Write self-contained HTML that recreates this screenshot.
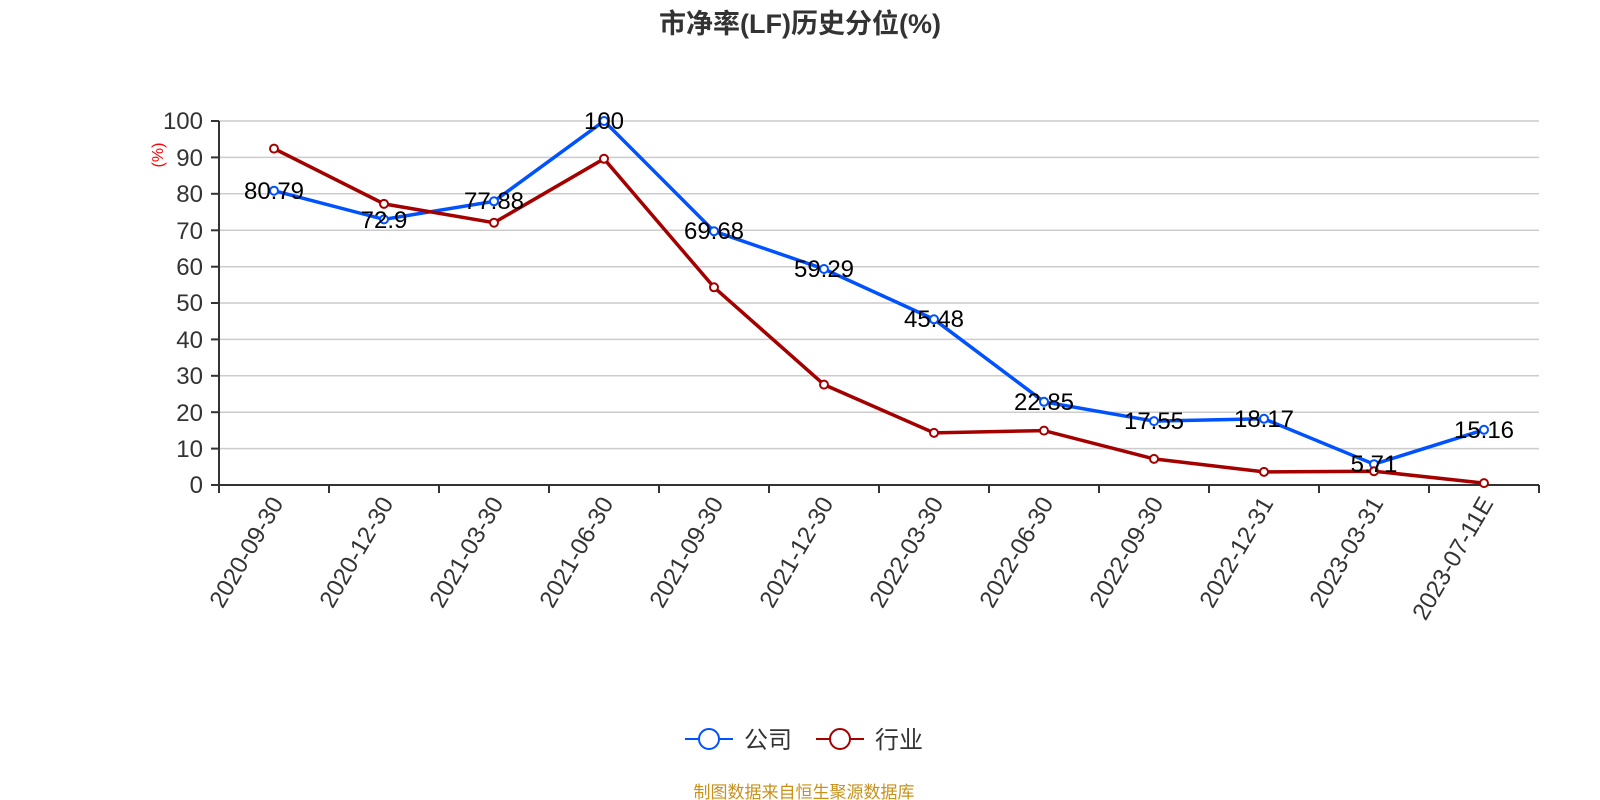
<!DOCTYPE html>
<html><head><meta charset="utf-8"><style>body{margin:0;background:#fff}svg{display:block}</style></head><body>
<svg width="1600" height="800" xmlns="http://www.w3.org/2000/svg" font-family="'Liberation Sans','Noto Sans CJK SC',sans-serif">
<text x="800" y="33" text-anchor="middle" font-size="27" font-weight="bold" fill="#333">市净率(LF)历史分位(%)</text>
<g stroke="#ccc" stroke-width="1.5">
<line x1="219" x2="1539" y1="121" y2="121"/><line x1="219" x2="1539" y1="157.4" y2="157.4"/><line x1="219" x2="1539" y1="193.8" y2="193.8"/><line x1="219" x2="1539" y1="230.3" y2="230.3"/><line x1="219" x2="1539" y1="266.7" y2="266.7"/><line x1="219" x2="1539" y1="303" y2="303"/><line x1="219" x2="1539" y1="339.4" y2="339.4"/><line x1="219" x2="1539" y1="375.8" y2="375.8"/><line x1="219" x2="1539" y1="412.2" y2="412.2"/><line x1="219" x2="1539" y1="448.6" y2="448.6"/>
</g>
<g stroke="#333" stroke-width="2">
<line x1="219" x2="219" y1="121" y2="485"/><line x1="219" x2="1539" y1="485" y2="485"/>
<line x1="211" x2="219" y1="121" y2="121"/><line x1="211" x2="219" y1="157.4" y2="157.4"/><line x1="211" x2="219" y1="193.8" y2="193.8"/><line x1="211" x2="219" y1="230.3" y2="230.3"/><line x1="211" x2="219" y1="266.7" y2="266.7"/><line x1="211" x2="219" y1="303" y2="303"/><line x1="211" x2="219" y1="339.4" y2="339.4"/><line x1="211" x2="219" y1="375.8" y2="375.8"/><line x1="211" x2="219" y1="412.2" y2="412.2"/><line x1="211" x2="219" y1="448.6" y2="448.6"/><line x1="211" x2="219" y1="485" y2="485"/>
<line x1="219" x2="219" y1="485" y2="493"/><line x1="329" x2="329" y1="485" y2="493"/><line x1="439" x2="439" y1="485" y2="493"/><line x1="549" x2="549" y1="485" y2="493"/><line x1="659" x2="659" y1="485" y2="493"/><line x1="769" x2="769" y1="485" y2="493"/><line x1="879" x2="879" y1="485" y2="493"/><line x1="989" x2="989" y1="485" y2="493"/><line x1="1099" x2="1099" y1="485" y2="493"/><line x1="1209" x2="1209" y1="485" y2="493"/><line x1="1319" x2="1319" y1="485" y2="493"/><line x1="1429" x2="1429" y1="485" y2="493"/><line x1="1539" x2="1539" y1="485" y2="493"/>
</g>
<g font-size="24" fill="#333" text-anchor="end">
<text x="203" y="129">100</text><text x="203" y="166">90</text><text x="203" y="202">80</text><text x="203" y="239">70</text><text x="203" y="275">60</text><text x="203" y="311">50</text><text x="203" y="348">40</text><text x="203" y="384">30</text><text x="203" y="421">20</text><text x="203" y="457">10</text><text x="203" y="493">0</text>
</g>
<text transform="translate(163,155) rotate(-90)" font-size="16" fill="#f00" text-anchor="middle">(%)</text>
<g font-size="24" fill="#333" text-anchor="end">
<text transform="translate(284,503) rotate(-60)">2020-09-30</text>
<text transform="translate(394,503) rotate(-60)">2020-12-30</text>
<text transform="translate(504,503) rotate(-60)">2021-03-30</text>
<text transform="translate(614,503) rotate(-60)">2021-06-30</text>
<text transform="translate(724,503) rotate(-60)">2021-09-30</text>
<text transform="translate(834,503) rotate(-60)">2021-12-30</text>
<text transform="translate(944,503) rotate(-60)">2022-03-30</text>
<text transform="translate(1054,503) rotate(-60)">2022-06-30</text>
<text transform="translate(1164,503) rotate(-60)">2022-09-30</text>
<text transform="translate(1274,503) rotate(-60)">2022-12-31</text>
<text transform="translate(1384,503) rotate(-60)">2023-03-31</text>
<text transform="translate(1494,503) rotate(-60)">2023-07-11E</text>
</g>
<polyline fill="none" stroke="#0052ff" stroke-width="3.5" points="274,190.7 384,219.4 494,201.3 604,121 714,231.2 824,269.0 934,319.3 1044,401.8 1154,421.1 1264,418.8 1374,464.2 1484,429.8"/>
<polyline fill="none" stroke="#a50000" stroke-width="3.5" points="274,148.6 384,203.9 494,222.7 604,158.8 714,287.3 824,384.6 934,432.9 1044,430.6 1154,458.9 1264,471.9 1374,471.2 1484,483.1"/>
<g fill="#fff" stroke="#0052ff" stroke-width="2">
<circle cx="274" cy="190.7" r="4"/><circle cx="384" cy="219.4" r="4"/><circle cx="494" cy="201.3" r="4"/><circle cx="604" cy="121" r="4"/><circle cx="714" cy="231.2" r="4"/><circle cx="824" cy="269.0" r="4"/><circle cx="934" cy="319.3" r="4"/><circle cx="1044" cy="401.8" r="4"/><circle cx="1154" cy="421.1" r="4"/><circle cx="1264" cy="418.8" r="4"/><circle cx="1374" cy="464.2" r="4"/><circle cx="1484" cy="429.8" r="4"/>
</g>
<g fill="#fff" stroke="#a50000" stroke-width="2">
<circle cx="274" cy="148.6" r="4"/><circle cx="384" cy="203.9" r="4"/><circle cx="494" cy="222.7" r="4"/><circle cx="604" cy="158.8" r="4"/><circle cx="714" cy="287.3" r="4"/><circle cx="824" cy="384.6" r="4"/><circle cx="934" cy="432.9" r="4"/><circle cx="1044" cy="430.6" r="4"/><circle cx="1154" cy="458.9" r="4"/><circle cx="1264" cy="471.9" r="4"/><circle cx="1374" cy="471.2" r="4"/><circle cx="1484" cy="483.1" r="4"/>
</g>
<g font-size="24" fill="#000" text-anchor="middle">
<text x="274" y="199">80.79</text><text x="384" y="228">72.9</text><text x="494" y="209">77.88</text><text x="604" y="129">100</text><text x="714" y="239">69.68</text><text x="824" y="277">59.29</text><text x="934" y="327">45.48</text><text x="1044" y="410">22.85</text><text x="1154" y="429">17.55</text><text x="1264" y="427">18.17</text><text x="1374" y="472">5.71</text><text x="1484" y="438">15.16</text>
</g>
<g>
<line x1="685" x2="733" y1="739" y2="739" stroke="#0052ff" stroke-width="2"/><circle cx="709" cy="739" r="10" fill="#fff" stroke="#0052ff" stroke-width="2"/>
<text x="744" y="748" font-size="24" fill="#333">公司</text>
<line x1="816" x2="864" y1="739" y2="739" stroke="#a50000" stroke-width="2"/><circle cx="840" cy="739" r="10" fill="#fff" stroke="#a50000" stroke-width="2"/>
<text x="875" y="748" font-size="24" fill="#333">行业</text>
</g>
<text x="804" y="798" font-size="17" fill="#c8911a" text-anchor="middle">制图数据来自恒生聚源数据库</text>
</svg>
</body></html>
